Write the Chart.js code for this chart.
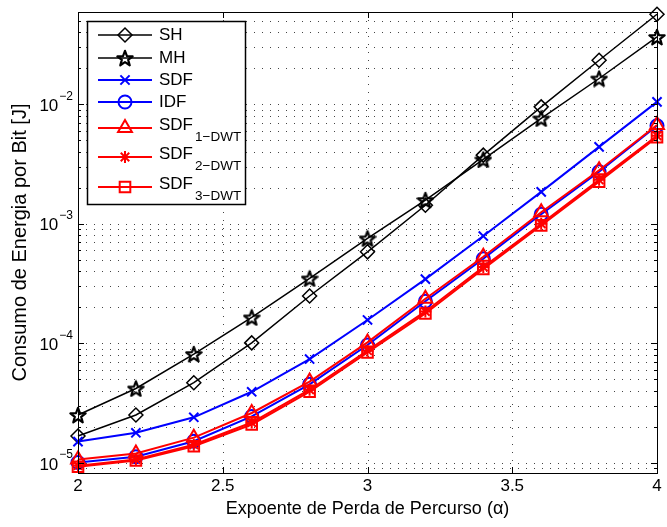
<!DOCTYPE html>
<html><head><meta charset="utf-8">
<script src="https://cdn.jsdelivr.net/npm/chart.js@4.4.1/dist/chart.umd.min.js"></script>
<style>html,body{margin:0;padding:0;background:#fff;}#wrap{width:667px;height:527px;position:relative;}</style>
</head><body><div id="wrap"><canvas id="c" width="667" height="527"></canvas></div>
<script>
// ---- data ----
const alphaValues = [2.0, 2.2, 2.4, 2.6, 2.8, 3.0, 3.2, 3.4, 3.6, 3.8, 4.0];
const seriesSH   = [1.68e-5, 2.52e-5, 4.69e-5, 1.01e-4, 2.49e-4, 5.83e-4, 1.43e-3, 3.75e-3, 9.5e-3, 2.33e-2, 5.65e-2];
const seriesMH   = [2.52e-5, 4.2e-5, 8.15e-5, 1.65e-4, 3.49e-4, 7.55e-4, 1.58e-3, 3.45e-3, 7.6e-3, 1.64e-2, 3.65e-2];
const seriesSDF  = [1.51e-5, 1.79e-5, 2.41e-5, 3.94e-5, 7.4e-5, 1.57e-4, 3.45e-4, 7.9e-4, 1.85e-3, 4.4e-3, 1.045e-2];
const seriesIDF  = [1.01e-5, 1.13e-5, 1.52e-5, 2.45e-5, 4.55e-5, 9.7e-5, 2.25e-4, 5.1e-4, 1.2e-3, 2.72e-3, 6.6e-3];
const seriesSDF1 = [1.07e-5, 1.2e-5, 1.63e-5, 2.62e-5, 4.8e-5, 1.02e-4, 2.36e-4, 5.3e-4, 1.25e-3, 2.8e-3, 6.7e-3];
const seriesSDF2 = [9.5e-6, 1.07e-5, 1.42e-5, 2.18e-5, 4.1e-5, 8.7e-5, 1.85e-4, 4.35e-4, 1.0e-3, 2.33e-3, 5.45e-3];
const seriesSDF3 = [9.3e-6, 1.05e-5, 1.38e-5, 2.1e-5, 3.95e-5, 8.4e-5, 1.78e-4, 4.2e-4, 9.7e-4, 2.25e-3, 5.3e-3];
const legendMain = ['SH', 'MH', 'SDF', 'IDF', 'SDF', 'SDF', 'SDF'];
const legendSub  = ['', '', '', '', '1\u2212DWT', '2\u2212DWT', '3\u2212DWT'];
const xTickValues = [2, 2.5, 3, 3.5, 4];
const yDecadeExponents = [-5, -4, -3, -2];
const xAxisTitle = 'Expoente de Perda de Percurso (\u03b1)';
const yAxisTitle = 'Consumo de Energia por Bit [J]';

const FONT = "'Liberation Sans', Arial, Helvetica, sans-serif";
const Y_MIN = 8.25e-6, Y_MAX = 0.059;

function makePentagram(size, color, lw) {
  const c = document.createElement('canvas');
  c.width = size; c.height = size;
  const g = c.getContext('2d');
  const cx = size / 2, cy = size / 2 + 0.8;
  const R = size / 2 - 1, r = R * 0.42;
  g.beginPath();
  for (let i = 0; i < 10; i++) {
    const a = -Math.PI / 2 + i * Math.PI / 5;
    const rr = (i % 2) ? r : R;
    g.lineTo(cx + rr * Math.cos(a), cy + rr * Math.sin(a));
  }
  g.closePath();
  g.lineWidth = lw; g.strokeStyle = color; g.lineJoin = 'round';
  g.stroke();
  return c;
}
const pentagram = makePentagram(18, '#000', 2.2);

function pts(arr) { return alphaValues.map((x, i) => ({x: x, y: arr[i]})); }

const styles = [
  {data: seriesSH,   color: '#000000', bw: 1.5, ps: 'rectRot', r: 7},
  {data: seriesMH,   color: '#000000', bw: 1.5, ps: pentagram, r: 8},
  {data: seriesSDF,  color: '#0000ff', bw: 2,   ps: 'crossRot', r: 6.5},
  {data: seriesIDF,  color: '#0000ff', bw: 2,   ps: 'circle', r: 6.5},
  {data: seriesSDF1, color: '#ff0000', bw: 2,   ps: 'triangle', r: 8},
  {data: seriesSDF2, color: '#ff0000', bw: 2,   ps: 'star', r: 6},
  {data: seriesSDF3, color: '#ff0000', bw: 2,   ps: 'rect', r: 7.5}
];

const datasets = styles.map((s, i) => ({
  label: legendMain[i] + legendSub[i],
  data: pts(s.data),
  borderColor: s.color,
  borderWidth: s.bw,
  pointStyle: s.ps,
  pointRadius: s.r,
  pointHoverRadius: s.r,
  pointBorderColor: s.color,
  pointBackgroundColor: 'rgba(0,0,0,0)',
  pointBorderWidth: s.bw,
  fill: false,
  tension: 0,
  clip: false,
  order: styles.length - 1 - i
}));

function yTickValues() {
  const v = [];
  for (let e = -6; e <= -1; e++) for (let m = 1; m <= 9; m++) {
    const val = m * Math.pow(10, e);
    if (val >= Y_MIN && val <= Y_MAX) v.push({value: val, major: m === 1});
  }
  return v;
}

function drawMarker(ctx, s, x, y) {
  ctx.save();
  ctx.strokeStyle = s.color; ctx.fillStyle = 'rgba(0,0,0,0)'; ctx.lineWidth = s.bw;
  Chart.helpers.drawPoint(ctx, {pointStyle: s.ps, radius: s.r, rotation: 0, borderWidth: s.bw}, x, y);
  ctx.restore();
}

const overlay = {
  id: 'overlay',
  beforeDatasetsDraw(chart) {
    const ctx = chart.ctx, a = chart.chartArea, xs = chart.scales.x, ys = chart.scales.y;
    ctx.save();
    ctx.strokeStyle = '#444'; ctx.lineWidth = 1; ctx.setLineDash([1, 7]);
    xTickValues.forEach(v => {
      const px = Math.round(xs.getPixelForValue(v)) + 0.5;
      if (px < a.left + 2 || px > a.right - 2) return;
      ctx.beginPath(); ctx.moveTo(px, a.top); ctx.lineTo(px, a.bottom); ctx.stroke();
    });
    yTickValues().forEach(t => {
      const py = Math.round(ys.getPixelForValue(t.value)) + 0.5;
      ctx.beginPath(); ctx.moveTo(a.left, py); ctx.lineTo(a.right, py); ctx.stroke();
    });
    ctx.restore();
  },
  afterDatasetsDraw(chart) {
    const ctx = chart.ctx, a = chart.chartArea, xs = chart.scales.x, ys = chart.scales.y;
    ctx.save();
    ctx.setLineDash([]);
    ctx.strokeStyle = '#000'; ctx.lineWidth = 1;
    // frame
    ctx.strokeRect(Math.round(a.left) + 0.5, Math.round(a.top) + 0.5, Math.round(a.right - a.left), Math.round(a.bottom - a.top));
    // ticks
    ctx.beginPath();
    xTickValues.forEach(v => {
      const px = Math.round(xs.getPixelForValue(v)) + 0.5;
      ctx.moveTo(px, a.bottom); ctx.lineTo(px, a.bottom - 6);
      ctx.moveTo(px, a.top); ctx.lineTo(px, a.top + 6);
    });
    yTickValues().forEach(t => {
      const py = Math.round(ys.getPixelForValue(t.value)) + 0.5;
      const len = t.major ? 6 : 3;
      ctx.moveTo(a.left, py); ctx.lineTo(a.left + len, py);
      ctx.moveTo(a.right, py); ctx.lineTo(a.right - len, py);
    });
    ctx.stroke();
    // y tick labels 10^e
    ctx.fillStyle = '#000';
    yDecadeExponents.forEach(e => {
      const py = ys.getPixelForValue(Math.pow(10, e));
      const sup = '\u2212' + Math.abs(e);
      ctx.font = '12px ' + FONT;
      const supW = ctx.measureText(sup).width;
      const rightEdge = 73;
      ctx.textBaseline = 'middle';
      ctx.textAlign = 'left';
      ctx.fillText(sup, rightEdge - supW, py - 8);
      ctx.font = '17px ' + FONT;
      ctx.textAlign = 'right';
      ctx.fillText('10', rightEdge - supW - 1, py + 2);
    });
    // axis titles
    ctx.font = '18px ' + FONT;
    ctx.textAlign = 'center'; ctx.textBaseline = 'middle';
    ctx.fillText(xAxisTitle, (a.left + a.right) / 2, 509);
    ctx.save();
    ctx.font = '20px ' + FONT;
    ctx.translate(20, (a.top + a.bottom) / 2);
    ctx.rotate(-Math.PI / 2);
    ctx.fillText(yAxisTitle, 0, 0);
    ctx.restore();
    // legend
    const bx = 87, by = 21, bw = 158, bh = 183;
    ctx.fillStyle = '#fff';
    ctx.fillRect(bx, by, bw, bh);
    ctx.strokeStyle = '#000'; ctx.lineWidth = 1.5;
    ctx.strokeRect(bx + 0.5, by + 0.5, bw, bh);
    const rowY = [35, 58, 80, 102, 128, 157, 187];
    styles.forEach((s, i) => {
      const y = rowY[i];
      ctx.save();
      ctx.strokeStyle = s.color; ctx.lineWidth = s.bw;
      ctx.beginPath(); ctx.moveTo(98, y); ctx.lineTo(152, y); ctx.stroke();
      ctx.restore();
      drawMarker(ctx, s, 125, y);
      ctx.fillStyle = '#000';
      ctx.textAlign = 'left'; ctx.textBaseline = 'middle';
      ctx.font = '17px ' + FONT;
      const hasSub = legendSub[i] !== '';
      const ty = hasSub ? y - 3 : y;
      ctx.fillText(legendMain[i], 159, ty);
      if (hasSub) {
        const w = ctx.measureText(legendMain[i]).width;
        ctx.font = '13.5px ' + FONT;
        ctx.fillText(legendSub[i], 159 + w + 2, ty + 12);
      }
    });
    ctx.restore();
  }
};

new Chart(document.getElementById('c'), {
  type: 'line',
  data: {datasets: datasets},
  options: {
    responsive: false,
    animation: false,
    devicePixelRatio: 1,
    layout: {padding: {top: 12, right: 4, left: 0, bottom: 0}},
    plugins: {legend: {display: false}, tooltip: {enabled: false}},
    scales: {
      x: {
        type: 'linear', min: 2, max: 4,
        grid: {display: false, drawTicks: false},
        border: {display: false},
        ticks: {
          stepSize: 0.5, padding: 3, color: '#000', maxRotation: 0,
          font: {family: FONT, size: 17},
          callback: v => String(v)
        },
        afterBuildTicks: s => { s.ticks = xTickValues.map(v => ({value: v})); },
        afterFit: s => { s.height = 54; }
      },
      y: {
        type: 'logarithmic', min: Y_MIN, max: Y_MAX,
        grid: {display: false, drawTicks: false},
        border: {display: false},
        ticks: {display: false},
        afterBuildTicks: s => { s.ticks = yTickValues().map(t => ({value: t.value, major: t.major})); },
        afterFit: s => { s.width = 78; }
      }
    }
  },
  plugins: [overlay]
});
</script>
</body></html>
